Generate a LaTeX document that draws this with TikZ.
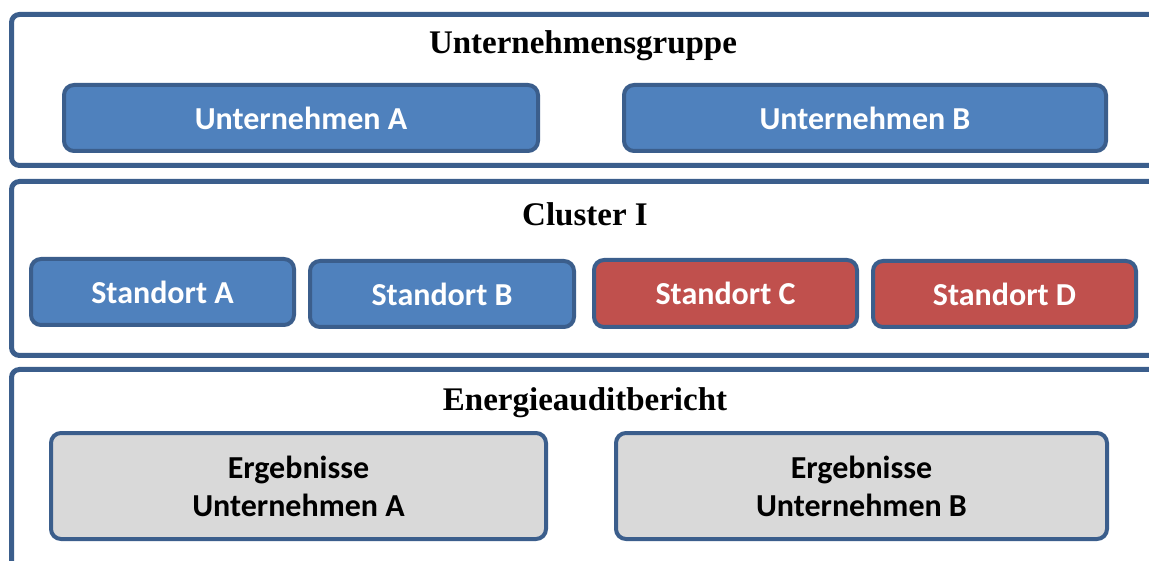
\documentclass[tikz,border=0pt]{standalone}
\usepackage{fontspec}
\setmainfont{Liberation Serif}
\newfontfamily\boxfont{Carlito}
\definecolor{edgeblue}{HTML}{3B5E8C}
\definecolor{fillblue}{HTML}{4F81BD}
\definecolor{fillred}{HTML}{C0504D}
\definecolor{fillgray}{HTML}{D9D9D9}
\tikzset{
  panel/.style={draw=edgeblue, line width=5pt, rounded corners=8pt, fill=white},
  boxbase/.style={draw=edgeblue, line width=4pt, rounded corners=10pt, inner sep=0pt,
    font=\boxfont\bfseries\fontsize{32}{38}\selectfont, align=center},
  bluebox/.style={boxbase, fill=fillblue, text=white},
  redbox/.style={boxbase, fill=fillred, text=white},
  graybox/.style={boxbase, fill=fillgray, text=black},
  paneltitle/.style={font=\bfseries\fontsize{33}{38}\selectfont, inner sep=0pt}
}
\begin{document}
\begin{tikzpicture}[x=1pt,y=-1pt]
\useasboundingbox (0,0) rectangle (1149,561);
\clip (0,0) rectangle (1149,561);
% panels
\draw[panel] (11.5,14.5) rectangle (1175,165.5);
\draw[panel] (11.5,181.5) rectangle (1175,355.5);
\draw[panel] (11.5,369.5) rectangle (1175,600);
% titles
\node[paneltitle] (t1) at (583,46) {Unternehmensgruppe};
\node[paneltitle] (t2) at (585,214) {Cluster I};
\node[paneltitle] (t3) at (585,403) {Energieauditbericht};
% boxes
\node[bluebox, minimum width=474pt, minimum height=66pt] (ua) at (301,118) {Unternehmen A};
\node[bluebox, minimum width=482pt, minimum height=66pt] (ub) at (865,118) {Unternehmen B};
\node[bluebox, minimum width=263pt, minimum height=66pt] (sa) at (162.5,292) {Standort A};
\node[bluebox, minimum width=264pt, minimum height=66pt] (sb) at (442,294) {Standort B};
\node[redbox, minimum width=263pt, minimum height=67pt] (sc) at (725.5,293.5) {Standort C};
\node[redbox, minimum width=263pt, minimum height=66pt] (sd) at (1004.5,294) {Standort D};
\node[graybox, minimum width=495pt, minimum height=106pt] (ea) at (298.5,486) {Ergebnisse\\Unternehmen A};
\node[graybox, minimum width=491pt, minimum height=106pt] (eb) at (861.5,486) {Ergebnisse\\Unternehmen B};
\end{tikzpicture}
\end{document}
